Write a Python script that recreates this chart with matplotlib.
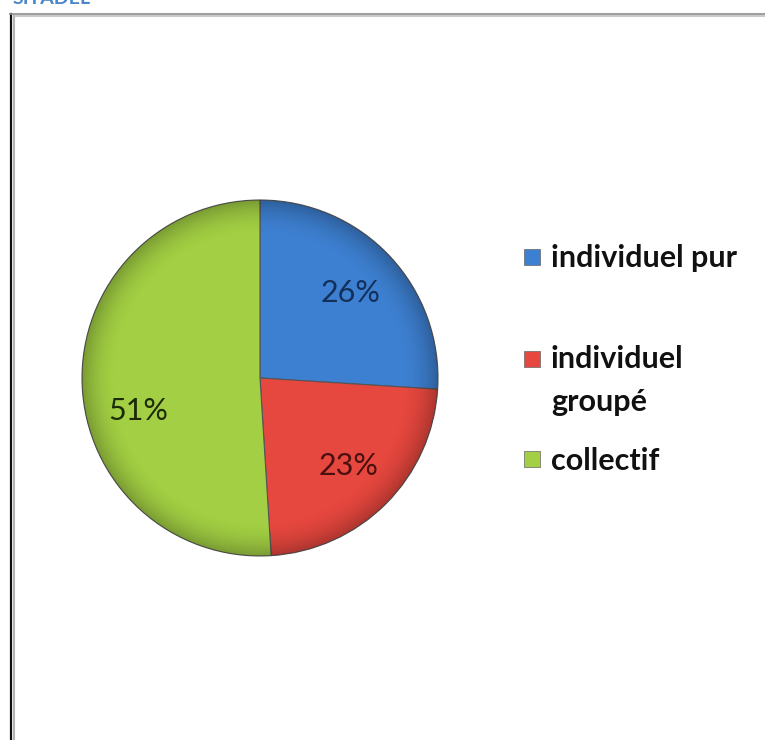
import numpy as np
import matplotlib.pyplot as plt
from matplotlib.lines import Line2D
from matplotlib.patches import Rectangle

labels = ['individuel pur', 'individuel\ngroupé', 'collectif']
shares = [26, 23, 51]
colors = ['#3d7fd0', '#e6473e', '#a2cf43']
pct_colors = ['#14305a', '#4a1010', '#1c2a08']

W, H = 765, 740
fig = plt.figure(figsize=(W / 100, H / 100), dpi=100)
fig.patch.set_facecolor('white')

# frame around the chart area
fig.add_artist(Line2D([10.5 / W, 10.5 / W], [0, 1 - 14 / H], color='#111111', lw=1.6))
fig.add_artist(Line2D([14.5 / W, 14.5 / W], [0, 1 - 16 / H], color='#b4b4b4', lw=1.5))
fig.add_artist(Line2D([10 / W, 1], [1 - 13.5 / H, 1 - 13.5 / H], color='#8c8c8c', lw=1.2))
fig.add_artist(Line2D([14 / W, 1], [1 - 15.8 / H, 1 - 15.8 / H], color='#c0c0c0', lw=1.2))

# heading, cut by the top edge
fig.text(13 / W, 1 + 2 / H, 'SITADEL', color='#4a86c8', fontsize=14,
         fontweight='bold', family='Lato', va='center', ha='left')

cx, cy, r = 260, 378, 178
ax = fig.add_axes([(cx - r) / W, (H - cy - r) / H, 2 * r / W, 2 * r / H])
wedges, texts, autotexts = ax.pie(
    shares, colors=colors, startangle=90, counterclock=False,
    autopct='%d%%', pctdistance=0.7,
    wedgeprops=dict(edgecolor='#555555', linewidth=0.8),
    textprops=dict(fontsize=22, family='Lato'))
for t, c in zip(autotexts, pct_colors):
    t.set_color(c)

# excel-style placement of the large slice label
ang = np.deg2rad(195)
autotexts[2].set_position((0.71 * np.cos(ang), 0.71 * np.sin(ang)))

# soft rim shading over the pie
yy, xx = np.mgrid[-1:1:400j, -1:1:400j]
rr = np.sqrt(xx ** 2 + yy ** 2)
shade = np.clip((rr - 0.8) / 0.2, 0, 1) ** 2 * 0.25
overlay = np.zeros((400, 400, 4))
overlay[..., 3] = shade
im = ax.imshow(overlay, extent=(-1, 1, -1, 1), zorder=3)
circ = plt.Circle((0, 0), 1, transform=ax.transData)
im.set_clip_path(circ)
for t in autotexts:
    t.set_zorder(5)
ax.set_xlim(-1.0, 1.0)
ax.set_ylim(-1.0, 1.0)
ax.set_aspect('equal')
ax.axis('off')

# legend: square marker + label lines drawn on their baselines
marker_y = [257, 359, 459]
baseline_y = [267, 368, 470]
for lab, col, my, by in zip(labels, colors, marker_y, baseline_y):
    fig.add_artist(Rectangle((524 / W, 1 - (my + 8) / H), 16 / W, 16 / H,
                             facecolor=col, edgecolor='#666666', lw=0.5))
    for i, line in enumerate(lab.split('\n')):
        fig.text(551 / W, 1 - (by + 43 * i) / H, line, fontsize=22,
                 family='Lato', fontweight='bold', color='#111111',
                 va='baseline', ha='left')

fig.savefig('out.png', dpi=100)
